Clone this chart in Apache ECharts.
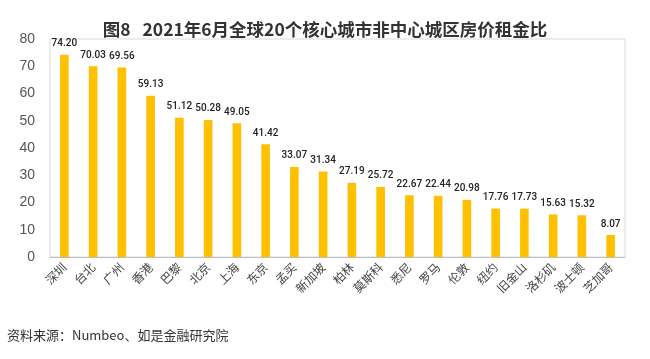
<!DOCTYPE html>
<html><head><meta charset="utf-8">
<script src="https://cdn.jsdelivr.net/npm/echarts@6/dist/echarts.min.js"></script>
<style>html,body{margin:0;padding:0;background:#fff}#c{width:650px;height:359px}</style>
</head><body><div id="c"></div>
<script>
const titleText = '图8   2021年6月全球20个核心城市非中心城区房价租金比';
const sourceText = '资料来源：Numbeo、如是金融研究院';
const cities = ['深圳','台北','广州','香港','巴黎','北京','上海','东京','孟买','新加坡','柏林','莫斯科','悉尼','罗马','伦敦','纽约','旧金山','洛杉矶','波士顿','芝加哥'];
const ratios = [74.20,70.03,69.56,59.13,51.12,50.28,49.05,41.42,33.07,31.34,27.19,25.72,22.67,22.44,20.98,17.76,17.73,15.63,15.32,8.07];
const yTicks = {min:0, max:80, interval:10};

const chart = echarts.init(document.getElementById('c'));
chart.setOption({
  animation:false,
  title:{text:titleText,left:'center',top:16,textStyle:{fontFamily:'"Noto Sans CJK SC"',fontSize:17.5,fontWeight:'bold',color:'#333'}},
  graphic:[{type:'text',left:7,top:329,style:{text:sourceText,font:'13px "Noto Sans CJK SC"',fill:'#333'}}],
  grid:{left:50,right:25,top:39,bottom:102,show:true,borderColor:'#d9d9d9',borderWidth:1},
  xAxis:{type:'category',data:cities,
    axisLine:{lineStyle:{color:'#bfbfbf'}},axisTick:{show:false},
    axisLabel:{rotate:45,interval:0,fontSize:12,color:'#444',fontFamily:'"Noto Sans CJK SC"',margin:8}},
  yAxis:{type:'value',min:yTicks.min,max:yTicks.max,interval:yTicks.interval,
    splitLine:{show:false},axisLine:{show:false},axisTick:{show:false},
    axisLabel:{fontSize:14,color:'#555',fontFamily:'"Liberation Sans"',margin:15}},
  series:[{type:'bar',data:ratios,barWidth:'30%',itemStyle:{color:'#FFC000'},
    label:{show:true,position:'top',distance:6,formatter:p=>p.value.toFixed(2),fontSize:10,color:'#222',fontFamily:'Roboto',fontWeight:500}}]
});
</script></body></html>
